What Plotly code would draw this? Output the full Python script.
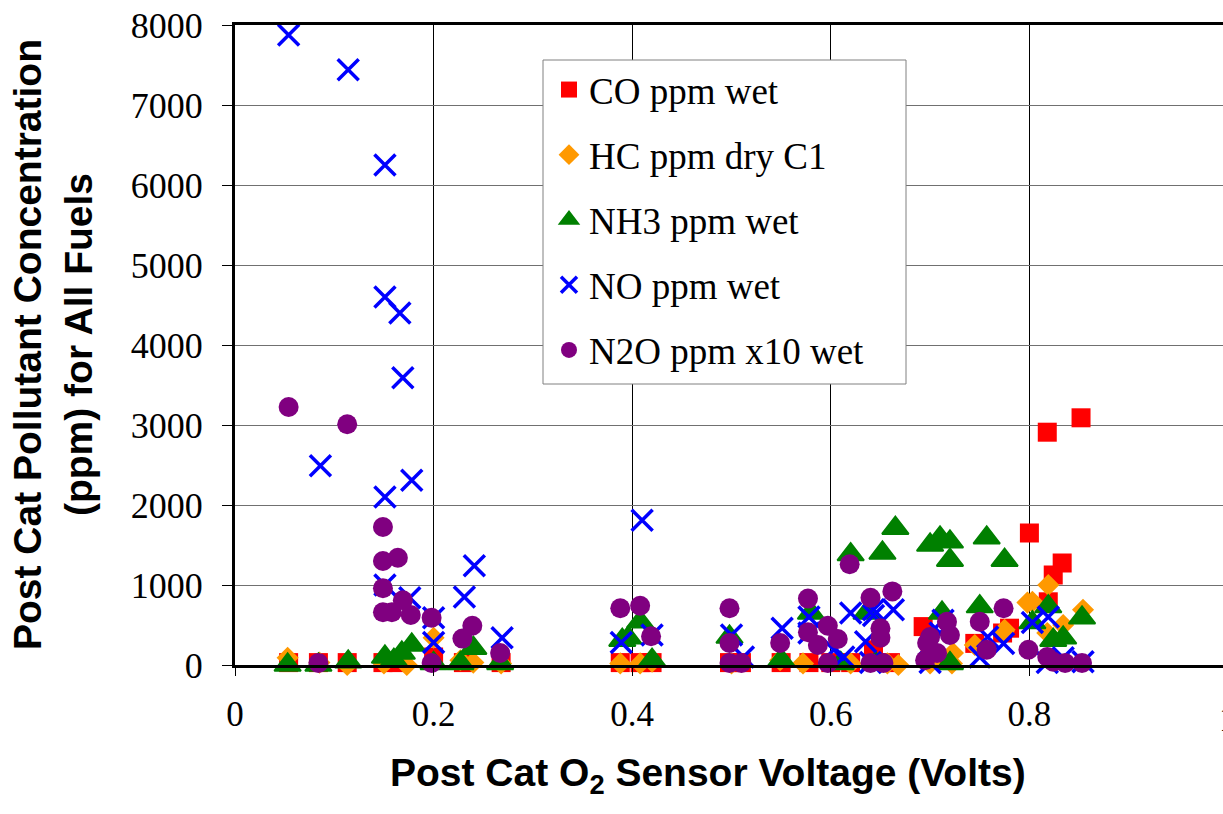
import plotly.graph_objects as go

# ---------------- data ----------------
co_x = [0.054, 0.084, 0.113, 0.149, 0.165, 0.200, 0.230, 0.268, 0.388, 0.408, 0.420,
        0.498, 0.510, 0.550, 0.578, 0.600, 0.620, 0.643, 0.660, 0.693, 0.700, 0.715,
        0.745, 0.773, 0.780, 0.800, 0.818, 0.819, 0.824, 0.833, 0.852]
co_y = [30, 30, 30, 30, 30, 100, 30, 30, 30, 30, 30,
        30, 30, 30, 30, 30, 30, 190, 30, 480, 100, 60,
        270, 400, 460, 1650, 2910, 790, 1125, 1275, 3090]

hc_x = [0.053, 0.085, 0.113, 0.150, 0.173, 0.200, 0.227, 0.240, 0.268, 0.388, 0.408,
        0.420, 0.500, 0.549, 0.572, 0.620, 0.657, 0.668, 0.700, 0.722, 0.723, 0.745,
        0.774, 0.775, 0.798, 0.803, 0.818, 0.819, 0.834, 0.854]
hc_y = [90, 30, 0, 20, 0, 340, 60, 30, 20, 20, 20,
        40, 20, 60, 20, 20, 20, 0, 20, 20, 150, 250,
        420, 440, 780, 790, 400, 1000, 500, 690]

nh3_x = [0.053, 0.084, 0.114, 0.151, 0.160, 0.168, 0.178, 0.200, 0.227, 0.240, 0.267,
         0.390, 0.396, 0.408, 0.420, 0.498, 0.550, 0.580, 0.610, 0.620, 0.636, 0.645,
         0.652, 0.665, 0.700, 0.710, 0.712, 0.720, 0.720, 0.720, 0.750, 0.757, 0.775,
         0.803, 0.819, 0.824, 0.834, 0.853]
nh3_y = [0, 0, 40, 100, 60, 150, 250, 20, 20, 210, 20,
         310, 340, 540, 60, 350, 60, 650, 20, 1380, 650, 20,
         1400, 1710, 1500, 1590, 650, 1540, 1310, 20, 730, 1590, 1310,
         530, 730, 310, 340, 590]

no_x = [0.054, 0.086, 0.114, 0.151, 0.151, 0.151, 0.151, 0.166, 0.169, 0.176, 0.178,
        0.200, 0.200, 0.231, 0.241, 0.269, 0.389, 0.410, 0.420, 0.500, 0.512, 0.551,
        0.578, 0.578, 0.603, 0.613, 0.620, 0.635, 0.640, 0.643, 0.643, 0.663, 0.700,
        0.710, 0.713, 0.750, 0.758, 0.774, 0.803, 0.818, 0.819, 0.834, 0.854]
no_y = [7875, 2490, 7440, 6250, 4600, 2100, 1000, 4400, 3590, 840, 2310,
        590, 280, 850, 1240, 340, 280, 1810, 375, 375, 100, 460,
        600, 400, 190, 100, 650, 290, 30, 620, 690, 690, 30,
        400, 560, 100, 350, 270, 530, 30, 600, 90, 40]

n2o_x = [0.054, 0.084, 0.113, 0.149, 0.149, 0.164, 0.149, 0.149, 0.158, 0.169, 0.177,
         0.198, 0.198, 0.229, 0.239, 0.267, 0.388, 0.408, 0.419, 0.498, 0.498, 0.498,
         0.510, 0.549, 0.577, 0.577, 0.587, 0.597, 0.607, 0.597, 0.619, 0.640, 0.650,
         0.650, 0.640, 0.653, 0.662, 0.695, 0.697, 0.700, 0.707, 0.717, 0.720, 0.750,
         0.757, 0.774, 0.799, 0.818, 0.824, 0.836, 0.853]
n2o_y = [3225, 25, 3010, 1725, 1300, 1340, 960, 660, 660, 810, 625,
         590, 25, 330, 490, 150, 710, 740, 360, 710, 275, 25,
         25, 275, 830, 410, 250, 490, 325, 25, 1260, 840, 460,
         340, 25, 25, 920, 60, 275, 350, 150, 540, 375, 540,
         190, 710, 190, 100, 40, 25, 25]

series_names = ["CO ppm wet", "HC ppm dry C1", "NH3 ppm wet", "NO ppm wet", "N2O ppm x10 wet"]
x_tick_vals = [0, 0.2, 0.4, 0.6, 0.8]
x_tick_text = ["0", "0.2", "0.4", "0.6", "0.8"]
y_tick_vals = [0, 1000, 2000, 3000, 4000, 5000, 6000, 7000, 8000]

# ---------------- figure ----------------
W, H = 1223, 814
L, R, T, B = 235, 0, 25, 149
XMAX = (W - L - R) / 993.0   # visible part of the 0..1 axis

fig = go.Figure()

styles = [
    dict(symbol="square", size=19, color="#FF0000", line=dict(width=0)),
    dict(symbol="diamond", size=17, color="#FF9900", line=dict(width=0)),
    dict(symbol="triangle-up", size=23, color="#008000", line=dict(width=2, color="#008000")),
    dict(symbol="x-thin", size=21, color="#0000FF", line=dict(width=3.5, color="#0000FF")),
    dict(symbol="circle", size=20, color="#800080", line=dict(width=0)),
]
data = [(co_x, co_y), (hc_x, hc_y), (nh3_x, nh3_y), (no_x, no_y), (n2o_x, n2o_y)]

for i, ((xs, ys), name, st) in enumerate(zip(data, series_names, styles)):
    fig.add_trace(go.Scatter(
        x=xs, y=ys, mode="markers", name=name, legendgroup=f"g{i}",
        marker=st, cliponaxis=False,
    ))

serif = "Liberation Serif, Times New Roman, serif"
sans = "Liberation Sans, Arial, sans-serif"

fig.update_layout(
    width=W, height=H,
    margin=dict(l=L, r=R, t=T, b=B, pad=0),
    paper_bgcolor="white", plot_bgcolor="white",
    showlegend=True,
    legend=dict(
        x=(569 - 20 - L) / (W - L), y=(665 - 59) / 640.0,
        xanchor="left", yanchor="top",
        bgcolor="rgba(0,0,0,0)", borderwidth=0,
        font=dict(family=serif, size=37, color="black"),
        tracegroupgap=14, itemsizing="trace",
    ),
    xaxis=dict(
        range=[0, XMAX], tickvals=x_tick_vals, ticktext=x_tick_text,
        showgrid=True, gridcolor="black", gridwidth=1,
        showline=True, linecolor="black", linewidth=3, mirror=True,
        ticks="outside", ticklen=8, tickcolor="black", tickwidth=1,
        tickfont=dict(family=serif, size=35, color="black"),
        ticklabelstandoff=8, zeroline=False,
    ),
    yaxis=dict(
        range=[0, 8000], tickvals=y_tick_vals,
        showgrid=True, gridcolor="#707070", gridwidth=1,
        showline=True, linecolor="black", linewidth=3,
        ticks="outside", ticklen=10, tickcolor="black", tickwidth=1,
        tickfont=dict(family=serif, size=36, color="black"),
        ticklabelstandoff=12, zeroline=False,
    ),
    shapes=[dict(
        type="rect", xref="paper", yref="paper", layer="above",
        x0=(543 - L) / (W - L), x1=(906 - L) / (W - L),
        y0=(665 - 384) / 640.0, y1=(665 - 60) / 640.0,
        fillcolor="white", line=dict(color="#808080", width=1),
    )],
    annotations=[
        dict(text="1", xref="paper", yref="paper",
             x=(1.0 / XMAX), y=(665 - 719) / 640.0, xanchor="center", yanchor="middle",
             showarrow=False, font=dict(family=serif, size=35, color="black")),
        dict(text="<b>Post Cat O<sub>2</sub> Sensor Voltage (Volts)</b>",
             xref="paper", yref="paper",
             x=(708 - L) / (W - L), y=(665 - 775) / 640.0,
             xanchor="center", yanchor="middle", showarrow=False,
             font=dict(family=sans, size=39, color="black")),
        dict(text="<b>Post Cat Pollutant Concentration<br>(ppm) for All Fuels</b>",
             xref="paper", yref="paper", textangle=-90,
             x=(53 - L) / (W - L), y=0.5,
             xanchor="center", yanchor="middle", showarrow=False,
             font=dict(family=sans, size=39, color="black")),
    ],
)

fig.write_html("out.html", config={"displayModeBar": False},
               post_script="document.body.style.margin='0';")
